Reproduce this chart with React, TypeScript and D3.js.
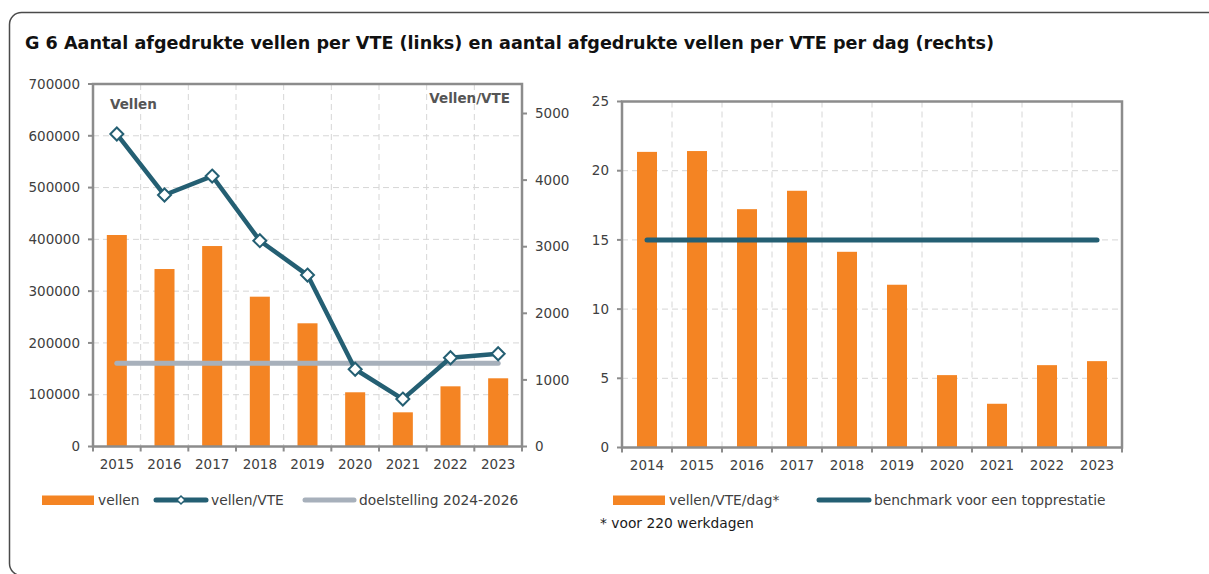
import * as d3 from "d3";

// left chart: vellen (bars, left axis) and vellen per VTE (line, right axis)
const leftYears = ["2015", "2016", "2017", "2018", "2019", "2020", "2021", "2022", "2023"];
const vellen = [408400, 342700, 387100, 289300, 237900, 104700, 66000, 116200, 131700];
const vellenPerVte = [4692, 3776, 4061, 3090, 2574, 1160, 712, 1333, 1393];
const doelstelling = 1250;
const leftTicks = [0, 100000, 200000, 300000, 400000, 500000, 600000, 700000];
const vteTicks = [0, 1000, 2000, 3000, 4000, 5000];

// right chart: vellen per VTE per dag
const rightYears = ["2014", "2015", "2016", "2017", "2018", "2019", "2020", "2021", "2022", "2023"];
const vellenPerDag = [21.36, 21.42, 17.22, 18.55, 14.14, 11.76, 5.23, 3.16, 5.95, 6.24];
const benchmark = 15;
const dagTicks = [0, 5, 10, 15, 20, 25];

const ORANGE = "#f48423";
const NAVY = "#245f73";
const TARGET = "#a7b0bb";
const GRID = "#d6d6d6";
const AXIS = "#8c8c8c";
const TEXT = "#404040";
const FONT = "'DejaVu Sans', sans-serif";
const FS = 13.5;
const LFS = 13.8;

function Diamond({ x, y }: { x: number; y: number }) {
  const s = 6.5;
  return (
    <path
      d={`M${x},${y - s}L${x + s},${y}L${x},${y + s}L${x - s},${y}Z`}
      fill="#fff"
      stroke={NAVY}
      strokeWidth={2}
    />
  );
}

function LeftChart() {
  const x = d3.scaleBand().domain(leftYears).range([93, 522]).paddingInner(0.58).paddingOuter(0.29);
  const band = d3.scaleBand().domain(leftYears).range([93, 522]);
  const y = d3.scaleLinear().domain([0, 700000]).range([446.5, 84]);
  const y2 = d3.scaleLinear().domain([0, 5443]).range([446.5, 84]);
  const cx = (d: string) => band(d)! + band.bandwidth() / 2;

  const line = d3
    .line<number>()
    .x((_, i) => cx(leftYears[i]))
    .y((d) => y2(d));

  const bounds = leftYears.slice(1).map((d) => band(d)!);
  const [x0, x1] = band.range();
  const [yb, yt] = y.range();

  return (
    <g>
      {/* grid */}
      {leftTicks.slice(1).map((t) => (
        <line key={t} x1={x0} x2={x1} y1={y(t)} y2={y(t)} stroke={GRID} strokeDasharray="6,4" />
      ))}
      {bounds.map((b) => (
        <line key={b} x1={b} x2={b} y1={yt} y2={yb} stroke={GRID} strokeDasharray="6,4" />
      ))}

      {/* bars */}
      {leftYears.map((d, i) => (
        <rect key={d} x={x(d)} y={y(vellen[i])} width={x.bandwidth()} height={yb - y(vellen[i])} fill={ORANGE} />
      ))}

      {/* target */}
      <line
        x1={cx(leftYears[0])}
        x2={cx(leftYears[leftYears.length - 1])}
        y1={y2(doelstelling)}
        y2={y2(doelstelling)}
        stroke={TARGET}
        strokeWidth={5}
        strokeLinecap="round"
      />

      {/* line */}
      <path d={line(vellenPerVte)!} fill="none" stroke={NAVY} strokeWidth={4.5} strokeLinejoin="round" />
      {vellenPerVte.map((v, i) => (
        <Diamond key={i} x={cx(leftYears[i])} y={y2(v)} />
      ))}

      {/* frame */}
      <rect x={x0} y={yt} width={x1 - x0} height={yb - yt} fill="none" stroke={AXIS} strokeWidth={2.5} />

      {/* left axis */}
      {leftTicks.map((t) => (
        <g key={t}>
          <line x1={x0 - 5} x2={x0} y1={y(t)} y2={y(t)} stroke={AXIS} strokeWidth={2} />
          <text x={x0 - 13} y={y(t)} dy="0.35em" textAnchor="end" fontSize={FS} fill={TEXT}>
            {t}
          </text>
        </g>
      ))}

      {/* right axis */}
      {vteTicks.map((t) => (
        <g key={t}>
          <line x1={x1} x2={x1 + 5} y1={y2(t)} y2={y2(t)} stroke={AXIS} strokeWidth={2} />
          <text x={x1 + 13} y={y2(t)} dy="0.35em" fontSize={FS} fill={TEXT}>
            {t}
          </text>
        </g>
      ))}

      {/* bottom axis */}
      {[x0, ...bounds, x1].map((b) => (
        <line key={b} x1={b} x2={b} y1={yb} y2={yb + 5} stroke={AXIS} strokeWidth={2} />
      ))}
      {leftYears.map((d) => (
        <text key={d} x={cx(d)} y={yb + 22} textAnchor="middle" fontSize={FS} fill={TEXT}>
          {d}
        </text>
      ))}

      <text x={110} y={109} fontSize={FS} fontWeight={700} fill="#555">
        Vellen
      </text>
      <text x={510} y={103} fontSize={FS} fontWeight={700} fill="#555" textAnchor="end">
        Vellen/VTE
      </text>

      {/* legend */}
      <rect x={42} y={495.5} width={52} height={9.5} fill={ORANGE} />
      <text x={98} y={505} fontSize={LFS} fill={TEXT}>vellen</text>
      <line x1={156} x2={206} y1={500} y2={500} stroke={NAVY} strokeWidth={5} strokeLinecap="round" />
      <path d="M181,496L185,500L181,504L177,500Z" fill="#fff" stroke={NAVY} strokeWidth={1.5} />
      <text x={211} y={505} fontSize={LFS} fill={TEXT}>vellen/VTE</text>
      <line x1={305} x2={354} y1={500} y2={500} stroke={TARGET} strokeWidth={5} strokeLinecap="round" />
      <text x={359} y={505} fontSize={LFS} fill={TEXT}>doelstelling 2024-2026</text>
    </g>
  );
}

function RightChart() {
  const band = d3.scaleBand().domain(rightYears).range([622, 1122]);
  const x = d3.scaleBand().domain(rightYears).range([622, 1122]).paddingInner(0.6).paddingOuter(0.3);
  const y = d3.scaleLinear().domain([0, 25]).range([447.5, 101.5]);
  const cx = (d: string) => band(d)! + band.bandwidth() / 2;
  const bounds = rightYears.slice(1).map((d) => band(d)!);
  const [x0, x1] = band.range();
  const [yb, yt] = y.range();

  return (
    <g>
      {dagTicks.slice(1).map((t) => (
        <line key={t} x1={x0} x2={x1} y1={y(t)} y2={y(t)} stroke={GRID} strokeDasharray="6,4" />
      ))}
      {bounds.map((b) => (
        <line key={b} x1={b} x2={b} y1={yt} y2={yb} stroke={GRID} strokeDasharray="6,4" />
      ))}

      {rightYears.map((d, i) => (
        <rect key={d} x={x(d)} y={y(vellenPerDag[i])} width={x.bandwidth()} height={yb - y(vellenPerDag[i])} fill={ORANGE} />
      ))}

      <line
        x1={cx(rightYears[0])}
        x2={cx(rightYears[rightYears.length - 1])}
        y1={y(benchmark)}
        y2={y(benchmark)}
        stroke={NAVY}
        strokeWidth={5}
        strokeLinecap="round"
      />

      <rect x={x0} y={yt} width={x1 - x0} height={yb - yt} fill="none" stroke={AXIS} strokeWidth={2.5} />

      {dagTicks.map((t) => (
        <g key={t}>
          <line x1={x0 - 5} x2={x0} y1={y(t)} y2={y(t)} stroke={AXIS} strokeWidth={2} />
          <text x={x0 - 13} y={y(t)} dy="0.35em" textAnchor="end" fontSize={FS} fill={TEXT}>
            {t}
          </text>
        </g>
      ))}
      {[x0, ...bounds, x1].map((b) => (
        <line key={b} x1={b} x2={b} y1={yb} y2={yb + 5} stroke={AXIS} strokeWidth={2} />
      ))}
      {rightYears.map((d) => (
        <text key={d} x={cx(d)} y={yb + 22} textAnchor="middle" fontSize={FS} fill={TEXT}>
          {d}
        </text>
      ))}

      <rect x={613} y={495.5} width={52} height={9.5} fill={ORANGE} />
      <text x={669} y={505} fontSize={LFS} fill={TEXT}>vellen/VTE/dag*</text>
      <line x1={819} x2={869} y1={500} y2={500} stroke={NAVY} strokeWidth={5} strokeLinecap="round" />
      <text x={874} y={505} fontSize={LFS} fill={TEXT}>benchmark voor een topprestatie</text>
      <text x={600} y={528} fontSize={LFS} fill="#1a1a1a">* voor 220 werkdagen</text>
    </g>
  );
}

export default function App() {
  return (
    <svg
      width={1209}
      height={574}
      style={{ position: "absolute", left: 0, top: 0, background: "#fff" }}
      fontFamily={FONT}
    >
      <rect x={9.5} y={12.5} width={1260} height={563} rx={12} fill="#fff" stroke="#4a4a4a" strokeWidth={1.5} />
      <text x={25} y={49} fontSize={17.6} fontWeight={700} fill="#111">
        G 6 Aantal afgedrukte vellen per VTE (links) en aantal afgedrukte vellen per VTE per dag (rechts)
      </text>
      <LeftChart />
      <RightChart />
    </svg>
  );
}
